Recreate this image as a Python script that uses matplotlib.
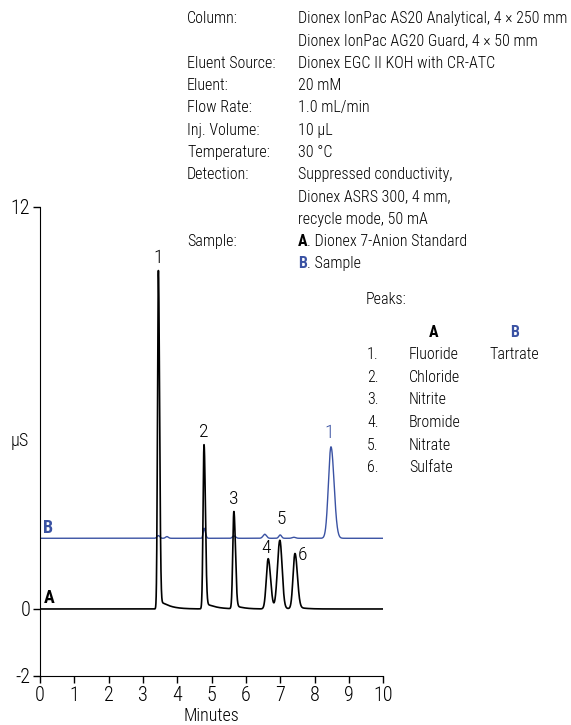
import numpy as np
import matplotlib
matplotlib.use("Agg")
import matplotlib.pyplot as plt

plt.rcParams['font.family'] = ['Roboto Condensed', 'Archivo Narrow', 'DejaVu Sans']
plt.rcParams['font.weight'] = 'light'
plt.rcParams['axes.labelweight'] = 'light'
plt.rcParams['axes.unicode_minus'] = False

BLUE = "#3a52a3"

# ---- Data: chromatogram A (standard) peak table ----
a_rt = [3.45, 4.78, 5.65, 6.65, 6.99, 7.43]
a_height = [10.1, 4.9, 2.9, 1.5, 2.05, 1.65]
a_sigma_left = [0.025, 0.028, 0.032, 0.055, 0.07, 0.055]
a_sigma_right = [0.035, 0.04, 0.045, 0.07, 0.065, 0.07]
a_tail_amp = [0.35, 0.25, 0.15, 0.0, 0.05, 0.1]
a_tail_tau = [0.25, 0.25, 0.2, 0.2, 0.2, 0.2]
a_labels = ["1", "2", "3", "4", "5", "6"]
a_baseline = 0.0

# ---- Data: chromatogram B (sample) peak table ----
b_rt = [3.45, 3.7, 4.78, 5.65, 6.55, 7.0, 7.4, 8.48]
b_height = [0.08, 0.05, 0.3, 0.07, 0.12, 0.1, 0.03, 2.73]
b_sigma_left = [0.04, 0.04, 0.025, 0.04, 0.05, 0.04, 0.05, 0.075]
b_sigma_right = [0.04, 0.04, 0.04, 0.05, 0.05, 0.04, 0.05, 0.09]
b_baseline = 2.11
b_main_label = "1"

x_ticks = [0, 1, 2, 3, 4, 5, 6, 7, 8, 9, 10]
y_ticks = [-2, 0, 12]

conditions = [
    ("Column:", "Dionex IonPac AS20 Analytical, 4 \u00d7 250 mm"),
    ("", "Dionex IonPac AG20 Guard, 4 \u00d7 50 mm"),
    ("Eluent Source:", "Dionex EGC II KOH with CR-ATC"),
    ("Eluent:", "20 mM"),
    ("Flow Rate:", "1.0 mL/min"),
    ("Inj. Volume:", "10 \u00b5L"),
    ("Temperature:", "30 \u00b0C"),
    ("Detection:", "Suppressed conductivity,"),
    ("", "Dionex ASRS 300, 4 mm,"),
    ("", "recycle mode, 50 mA"),
]
peak_names_a = ["Fluoride", "Chloride", "Nitrite", "Bromide", "Nitrate", "Sulfate"]
peak_names_b = ["Tartrate"]


def peak(t, rt, h, sl, sr, ta=0.0, tau=0.2):
    s = np.where(t < rt, sl, sr)
    y = h * np.exp(-(t - rt) ** 2 / (2 * s ** 2))
    if ta > 0:
        d = np.clip(t - rt, 0, None)
        ramp = 1 - np.exp(-d / (2 * sr))
        y = y + ta * ramp * np.exp(-d / tau)
    return y


t = np.linspace(0, 10, 4000)
ya = np.full_like(t, a_baseline)
for i in range(len(a_rt)):
    ya += peak(t, a_rt[i], a_height[i], a_sigma_left[i], a_sigma_right[i],
               a_tail_amp[i], a_tail_tau[i])
yb = np.full_like(t, b_baseline)
for i in range(len(b_rt)):
    yb += peak(t, b_rt[i], b_height[i], b_sigma_left[i], b_sigma_right[i])

fig = plt.figure(figsize=(5.71, 7.25), dpi=100)
ax = fig.add_axes([0.070, 0.0676, 0.601, 0.647])
ax.plot(t, yb, color=BLUE, lw=1.0)
ax.plot(t, ya, color="black", lw=1.2)
ax.set_xlim(0, 10)
ax.set_ylim(-2, 12)
for s in ["top", "right"]:
    ax.spines[s].set_visible(False)
ax.spines["left"].set_bounds(-2, 12)
ax.spines["bottom"].set_bounds(0, 10)
ax.set_xticks(x_ticks)
ax.set_yticks(y_ticks)
ax.tick_params(direction="out", length=5, width=1, labelsize=14.5, pad=2)
ax.set_xlabel("Minutes", fontsize=13, labelpad=2, fontweight="light")
ax.text(-0.032, 0.5, "\u00b5S", transform=ax.transAxes, fontsize=13,
        ha="right", va="center")

# peak labels A
offsets = [0.1, 0.12, 0.12, 0.05, 0.12, -0.3]
xoff = [0, 0, 0, -0.05, 0.05, 0.22]
for i in range(len(a_rt)):
    top = np.interp(a_rt[i], t, ya)
    yl = top + offsets[i]
    if a_labels[i] == "5":
        yl = np.interp(a_rt[i], t, yb) + 0.2
    ax.text(a_rt[i] + xoff[i], yl, a_labels[i], fontsize=14, ha="center", va="bottom")
btop = np.interp(b_rt[-1], t, yb)
ax.text(b_rt[-1] - 0.05, btop + 0.15, b_main_label, fontsize=14, ha="center",
        va="bottom", color=BLUE)

ax.text(0.1, a_baseline + 0.05, "A", fontsize=13, fontweight="bold", va="bottom")
ax.text(0.1, b_baseline + 0.05, "B", fontsize=13, fontweight="bold", va="bottom",
        color=BLUE)

# header conditions
W, H = 571, 725
lx, vx = 187 / W, 298 / W
y0 = 18.5
dy = 22.3
fs = 11.5
for i, (lab, val) in enumerate(conditions):
    yy = 1 - (y0 + i * dy) / H
    if lab:
        fig.text(lx, yy, lab, fontsize=fs, va="center", ha="left")
    fig.text(vx, yy, val, fontsize=fs, va="center", ha="left")
i = len(conditions)
yy = 1 - (y0 + i * dy) / H
fig.text(lx, yy, "Sample:", fontsize=fs, va="center")
fig.text(vx, yy, "A", fontsize=fs, va="center", fontweight="bold")
fig.text(vx + 9 / W, yy, ". Dionex 7-Anion Standard", fontsize=fs, va="center")
yy = 1 - (y0 + (i + 1) * dy) / H
fig.text(vx, yy, "B", fontsize=fs, va="center", fontweight="bold", color=BLUE)
fig.text(vx + 9 / W, yy, ". Sample", fontsize=fs, va="center")

# peaks table
fig.text(366 / W, 1 - 300 / H, "Peaks:", fontsize=fs, va="center")
fig.text(434 / W, 1 - 333 / H, "A", fontsize=fs, va="center", ha="center",
         fontweight="bold")
fig.text(515 / W, 1 - 333 / H, "B", fontsize=fs, va="center", ha="center",
         fontweight="bold", color=BLUE)
for k, name in enumerate(peak_names_a):
    yy = 1 - (354.5 + k * 22.7) / H
    fig.text(367 / W, yy, f"{k + 1}.", fontsize=fs, va="center")
    fig.text(409 / W, yy, name, fontsize=fs, va="center")
    if k < len(peak_names_b):
        fig.text(489 / W, yy, peak_names_b[k], fontsize=fs, va="center")

fig.savefig("out.png", dpi=100)
